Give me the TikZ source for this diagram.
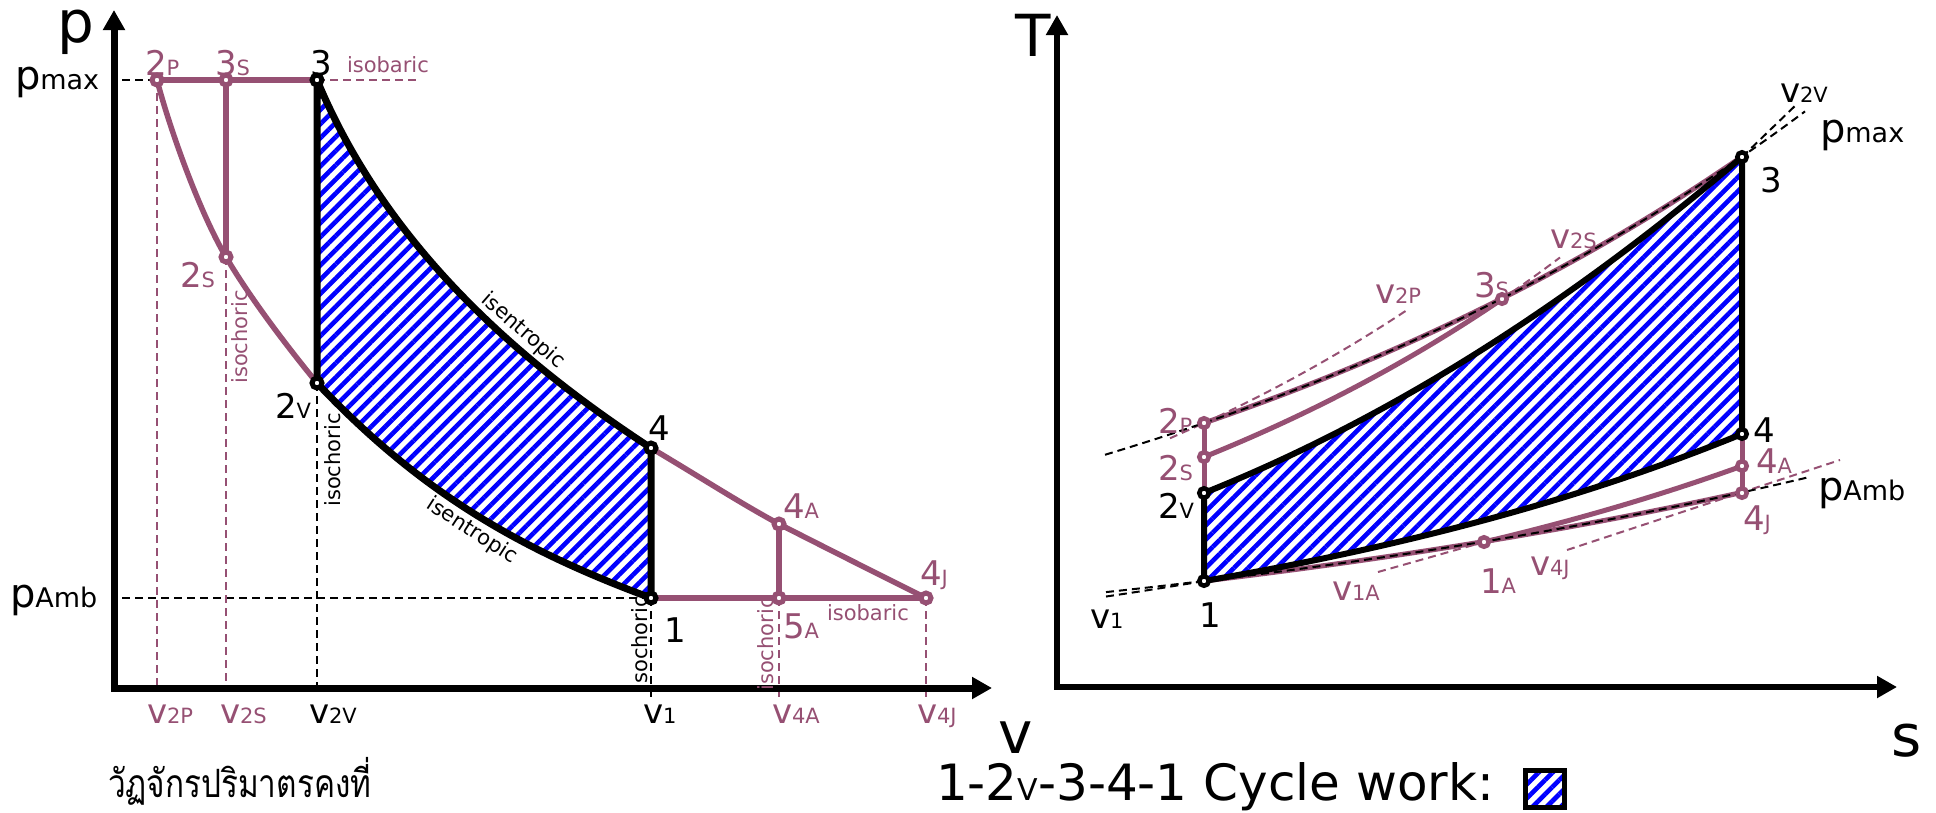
\documentclass[tikz,border=0pt]{standalone}
\usepackage{fontspec}
\setmainfont{DejaVu Sans}
\newfontfamily\thaifont[Script=Thai]{Loma}
\usetikzlibrary{arrows.meta,patterns.meta}
\definecolor{mauve}{RGB}{150,80,115}
\newcommand{\mylab}[2]{{\fontsize{34pt}{34pt}\selectfont #1}{\fontsize{21pt}{21pt}\selectfont #2}}
\newcommand{\mypl}[2]{{\fontsize{40pt}{40pt}\selectfont #1}{\fontsize{27pt}{27pt}\selectfont #2}}
\begin{document}
\begin{tikzpicture}[x=1pt,y=-1pt,
 lab/.style={inner sep=0pt, outer sep=0pt, anchor=base west},
 small/.style={font=\fontsize{21pt}{21pt}\selectfont},
 rot/.style={inner sep=0pt, rotate=90, small},
 big/.style={inner sep=0pt, anchor=base west, font=\fontsize{58pt}{58pt}\selectfont},
 ptb/.style={circle, draw=black, fill=white, line width=5pt, minimum size=10pt, inner sep=0pt},
 ptm/.style={ptb, draw=mauve},
 blk/.style={line width=7pt, line join=round, line cap=round},
 mvl/.style={line width=5.5pt, mauve, line join=round, line cap=round},
 dsh/.style={line width=2pt, dash pattern=on 8pt off 5pt},
 hatch/.style={pattern={Lines[angle=45,distance=10pt,line width=4.6pt]}, pattern color=blue},
 axis/.style={line width=7pt, {Triangle[width=21pt,length=20pt]}-{Triangle[width=21pt,length=20pt]}, line join=miter}
]
\useasboundingbox (0,0) rectangle (1936,812);

% ================= LEFT: p-v diagram =================
\coordinate (L2P) at (157,80);
\coordinate (L3S) at (226,80);
\coordinate (L3) at (317,80);
\coordinate (L2S) at (226,257);
\coordinate (L2V) at (317,383);
\coordinate (L4) at (651,448);
\coordinate (L1) at (651,598);
\coordinate (L4A) at (779,524);
\coordinate (L5A) at (779,598);
\coordinate (L4J) at (926,598);
\coordinate (Lpm0) at (122,80);
\coordinate (Lpm1) at (418,80);
\coordinate (Lpa0) at (122,598);
\coordinate (Bv2P) at (157,688);
\coordinate (Bv2S) at (226,688);
\coordinate (Bv2V) at (317,688);
\coordinate (Bv1) at (651,697);
\coordinate (Bv4A) at (779,697);
\coordinate (Bv4J) at (926,697);
\coordinate (LO) at (114,688);
\coordinate (LY) at (114,10);
\coordinate (LX) at (992,688);

\path[hatch] (L3) .. controls (387,248) and (521,363) .. (L4) -- (L1)
  .. controls (521,550) and (421,493) .. (L2V) -- cycle;

% dashed guide lines
\draw[dsh] (Lpm0) -- (L3);
\draw[dsh,mauve] (L3) -- (Lpm1);
\draw[dsh] (Lpa0) -- (L1);
\draw[dsh,mauve] (L2P) -- (Bv2P);
\draw[dsh,mauve] (L2S) -- (Bv2S);
\draw[dsh] (L2V) -- (Bv2V);
\draw[dsh] (L1) -- (Bv1);
\draw[dsh,mauve] (L5A) -- (Bv4A);
\draw[dsh,mauve] (L4J) -- (Bv4J);

% axes
\draw[axis] (LY) -- (LO) -- (LX);

% mauve processes
\draw[mvl] (L2P) -- (L3);
\draw[mvl] (L3S) -- (L2S);
\draw[mvl] (L2P) .. controls (170,130) and (200,213) .. (L2S) .. controls (252,301) and (290,350) .. (L2V);
\draw[mvl] (L4) .. controls (700,477) and (740,503) .. (L4A) .. controls (830,550) and (880,575) .. (L4J);
\draw[mvl] (L4A) -- (L5A);
\draw[mvl] (L1) -- (L4J);

% black cycle
\draw[blk] (L3) .. controls (387,248) and (521,363) .. (L4) -- (L1)
  .. controls (521,550) and (421,493) .. (L2V) -- cycle;

% points
\node[ptm] (n2P) at (L2P) {};
\node[ptm] (n3S) at (L3S) {};
\node[ptm] (n2S) at (L2S) {};
\node[ptm] (n4A) at (L4A) {};
\node[ptm] (n5A) at (L5A) {};
\node[ptm] (n4J) at (L4J) {};
\node[ptb] (n3) at (L3) {};
\node[ptb] (n2V) at (L2V) {};
\node[ptb] (n4) at (L4) {};
\node[ptb] (n1) at (L1) {};

% labels
\node[big] (tp) at (57,42) {p};
\node[lab] (tpmax) at (15,89) {\mypl{p}{max}};
\node[lab] (tpamb) at (10,607) {\mypl{p}{Amb}};
\node[lab,mauve] (t2P) at (145,75) {\mylab{2}{P}};
\node[lab,mauve] (t3S) at (215,75) {\mylab{3}{S}};
\node[lab] (t3) at (310,75) {\mylab{3}{}};
\node[lab,mauve,small] (tisob) at (347,72) {isobaric};
\node[lab,mauve] (t2S) at (180,287) {\mylab{2}{S}};
\node[rot,mauve] (tiso1) at (240,337) {isochoric};
\node[lab] (t2V) at (275,418) {\mylab{2}{V}};
\node[rot] (tiso2) at (333,460) {isochoric};
\node[inner sep=0pt,rotate=-41,small] (tise1) at (523,331) {isentropic};
\node[inner sep=0pt,rotate=-33,small] (tise2) at (472,531) {isentropic};
\node[lab] (t4) at (648,440) {\mylab{4}{}};
\node[lab] (t1) at (664,642) {\mylab{1}{}};
\node[lab,mauve] (t4A) at (783,518) {\mylab{4}{A}};
\node[lab,mauve] (t5A) at (783,638) {\mylab{5}{A}};
\node[lab,mauve] (t4J) at (920,585) {\mylab{4}{J}};
\node[lab,mauve,small] (tisob2) at (827,620) {isobaric};
\node[rot] (tsoc) at (640,640) {sochoric};
\node[rot,mauve] (tiso3) at (766,644) {isochoric};
\node[lab,mauve] (tv2P) at (147,723) {\mylab{v}{2P}};
\node[lab,mauve] (tv2S) at (220,723) {\mylab{v}{2S}};
\node[lab] (tv2V) at (309,723) {\mylab{v}{2V}};
\node[lab] (tv1) at (643,723) {\mylab{v}{1}};
\node[lab,mauve] (tv4A) at (772,723) {\mylab{v}{4A}};
\node[lab,mauve] (tv4J) at (917,723) {\mylab{v}{4J}};
\node[big] (tv) at (998,753) {v};
\node[lab,font=\thaifont\fontsize{30pt}{30pt}\selectfont] (thai) at (108,797) {\scalebox{1.05}[1.3]{วัฏจักรปริมาตรคงที่}};

% ================= RIGHT: T-s diagram =================
\coordinate (RO) at (1057,687);
\coordinate (RY) at (1057,15);
\coordinate (RX) at (1897,687);
\coordinate (R1) at (1204,581);
\coordinate (R2V) at (1204,493);
\coordinate (R2S) at (1204,457);
\coordinate (R2P) at (1204,423);
\coordinate (R3) at (1742,157);
\coordinate (R3S) at (1502,299);
\coordinate (R4) at (1742,434);
\coordinate (R4A) at (1742,466);
\coordinate (R4J) at (1742,493);
\coordinate (R1A) at (1484,542);
\coordinate (Rv1A) at (1378,572);
\coordinate (Rv4Ja) at (1567,550);
\coordinate (Rv4Jb) at (1840,460);
\coordinate (Rv2Ve) at (1798,103);

\path[hatch] (R1) -- (R2V) .. controls (1384,421) and (1562,310) .. (R3)
  -- (R4) -- plot[domain=1742:1204,samples=60] (\x,{687-106*exp(0.001617*(\x-1204))}) -- cycle;

\draw[axis,line width=6pt] (RY) -- (RO) -- (RX);

% dashed guide lines
\draw[dsh,mauve] plot[domain=1170:1406,samples=30] (\x,{687-264*exp(0.00175*(\x-1204))});
\draw[dsh,mauve] plot[domain=1502:1560,samples=10] (\x,{687-230*exp(0.001755*(\x-1204))});
\draw[dsh,mauve] (Rv1A) -- (R1A);
\draw[dsh,mauve] (Rv4Ja) -- (Rv4Jb);

% mauve processes
\draw[mvl,line width=5pt] plot[domain=1204:1742,samples=60] (\x,{687-264*exp(0.001295*(\x-1204))});
\draw[mvl,line width=5pt] plot[domain=1204:1502,samples=40] (\x,{687-230*exp(0.001755*(\x-1204))});
\draw[mvl,line width=5pt] (R2V) -- (R2P);
\draw[mvl,line width=5pt] (R4) -- (R4J);
\draw[mvl,line width=5pt] plot[domain=1204:1742,samples=60] (\x,{687-106*exp(0.0011236*(\x-1204))});
\draw[mvl,line width=5pt] plot[domain=1484:1742,samples=40] (\x,{687-145*exp(0.001634*(\x-1484))});

% black dashed isobars / isochores
\draw[dsh] plot[domain=1105:1805,samples=70] (\x,{687-264*exp(0.001295*(\x-1204))});
\draw[dsh] plot[domain=1106:1808,samples=70] (\x,{687-106*exp(0.0011236*(\x-1204))});
\draw[dsh] plot[domain=1106:1204,samples=10] (\x,{687-106*exp(0.001617*(\x-1204))});
\draw[dsh] (R3) -- (Rv2Ve);

% black cycle
\draw[blk,line width=6pt] (R1) -- (R2V) .. controls (1384,421) and (1562,310) .. (R3)
  -- (R4) -- plot[domain=1742:1204,samples=60] (\x,{687-106*exp(0.001617*(\x-1204))}) -- cycle;

% points
\node[ptm,line width=4.5pt,minimum size=9.5pt] (m2P) at (R2P) {};
\node[ptm,line width=4.5pt,minimum size=9.5pt] (m2S) at (R2S) {};
\node[ptm,line width=4.5pt,minimum size=9.5pt] (m3S) at (R3S) {};
\node[ptm,line width=4.5pt,minimum size=9.5pt] (m4A) at (R4A) {};
\node[ptm,line width=4.5pt,minimum size=9.5pt] (m4J) at (R4J) {};
\node[ptm,line width=4.5pt,minimum size=9.5pt] (m1A) at (R1A) {};
\node[ptb,line width=4.5pt,minimum size=9.5pt] (m1) at (R1) {};
\node[ptb,line width=4.5pt,minimum size=9.5pt] (m2V) at (R2V) {};
\node[ptb,line width=4.5pt,minimum size=9.5pt] (m3) at (R3) {};
\node[ptb,line width=4.5pt,minimum size=9.5pt] (m4) at (R4) {};

% labels
\node[big] (tT) at (1015,56) {T};
\node[big] (ts) at (1891,756) {s};
\node[lab] (rv2V) at (1780,102) {\mylab{v}{2V}};
\node[lab] (rpmax) at (1820,142) {\mypl{p}{max}};
\node[lab] (r3) at (1760,192) {\mylab{3}{}};
\node[lab,mauve] (rv2S) at (1550,248) {\mylab{v}{2S}};
\node[lab,mauve] (r3S) at (1474,297) {\mylab{3}{S}};
\node[lab,mauve] (rv2P) at (1375,303) {\mylab{v}{2P}};
\node[lab,mauve] (r2P) at (1158,433) {\mylab{2}{P}};
\node[lab,mauve] (r2S) at (1158,480) {\mylab{2}{S}};
\node[lab] (r2V) at (1158,518) {\mylab{2}{V}};
\node[lab] (r1) at (1199,627) {\mylab{1}{}};
\node[lab] (rv1) at (1090,628) {\mylab{v}{1}};
\node[lab] (r4) at (1753,442) {\mylab{4}{}};
\node[lab,mauve] (r4A) at (1756,473) {\mylab{4}{A}};
\node[lab,mauve] (r4J) at (1743,530) {\mylab{4}{J}};
\node[lab] (rpamb) at (1818,500) {\mypl{p}{Amb}};
\node[lab,mauve] (r1A) at (1480,593) {\mylab{1}{A}};
\node[lab,mauve] (rv4J) at (1530,575) {\mylab{v}{4J}};
\node[lab,mauve] (rv1A) at (1332,600) {\mylab{v}{1A}};

% legend
\node[lab,font=\fontsize{50pt}{50pt}\selectfont] (leg) at (936,800) {1-2{\fontsize{30pt}{30pt}\selectfont V}-3-4-1 Cycle work:};
\node[draw,line width=5pt,minimum width=39pt,minimum height=37pt,inner sep=0pt,hatch] (legbox) at (1544.5,789) {};
\end{tikzpicture}
\end{document}
